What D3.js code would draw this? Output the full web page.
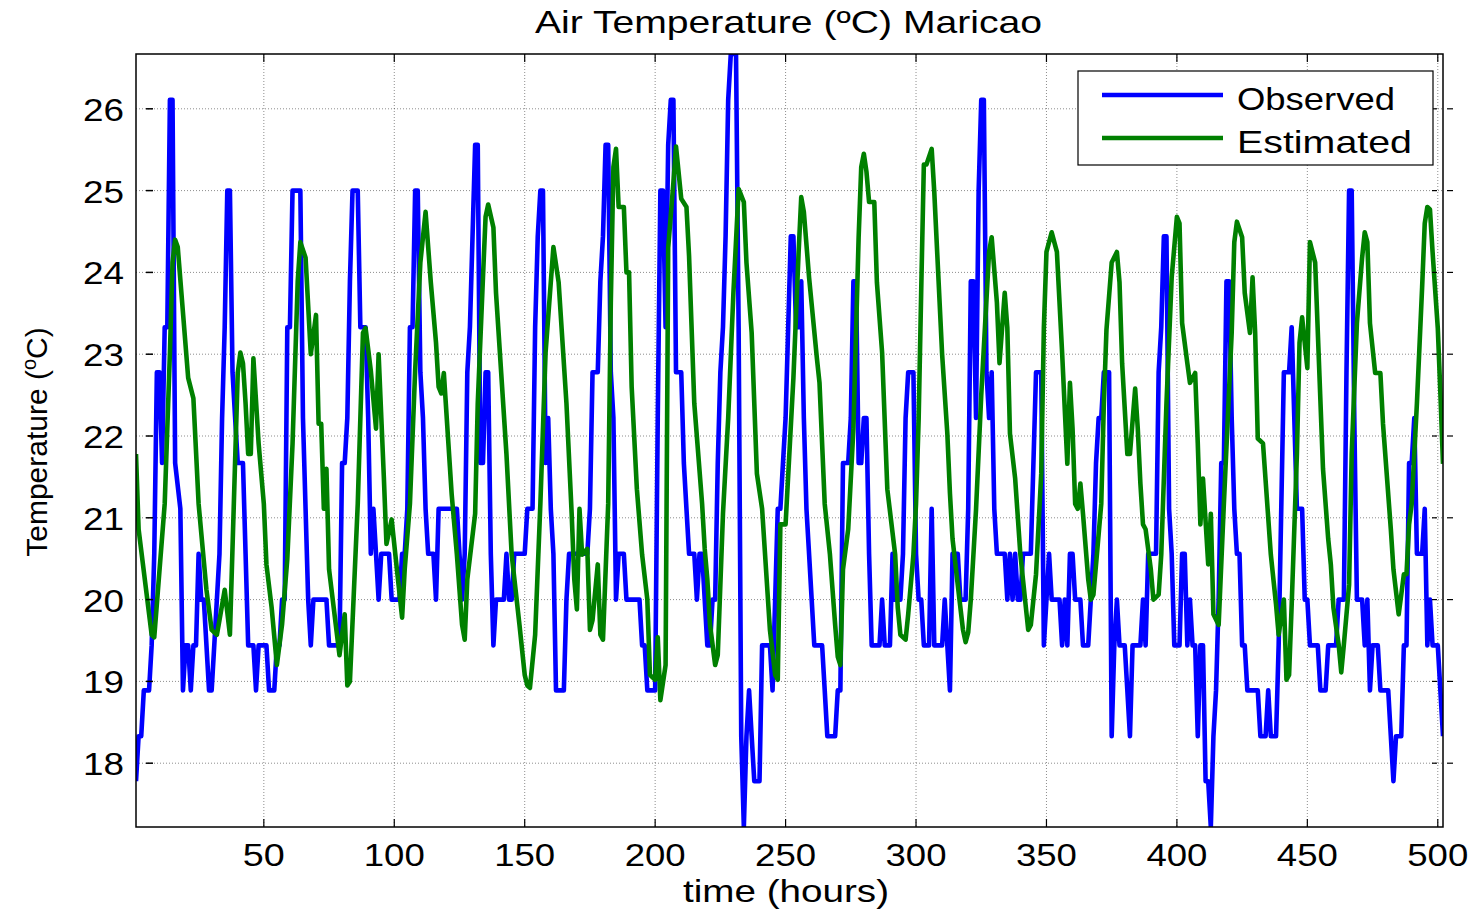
<!DOCTYPE html>
<html>
<head>
<meta charset="utf-8">
<script src="https://cdn.jsdelivr.net/npm/d3@7"></script>
<style>
  body { margin: 0; background: #fff; }
  text { font-family: "Liberation Sans", Arial, sans-serif; fill: #000; }
</style>
</head>
<body>
<svg id="chart" width="1473" height="910"></svg>
<script>
// Hourly air temperature at Maricao, [hour, °C]
const observed = [
  [1,17.78],[2,18.33],[3,18.33],[4,18.89],[6,18.89],[7,19.44],[8,20.56],[9,22.78],[10,22.78],[11,21.67],
  [12,23.33],[13,23.33],[14,26.11],[15,26.11],[16,21.67],[18,21.11],[19,18.89],[20,19.44],[21,19.44],[22,18.89],
  [23,19.44],[24,19.44],[25,20.56],[26,20.0],[27,20.0],[29,18.89],[30,18.89],[31,19.44],[32,20.0],[33,20.56],
  [34,22.22],[35,23.33],[36,25.0],[37,25.0],[38,22.78],[39,22.22],[40,21.67],[42,21.67],[43,20.56],[44,19.44],
  [46,19.44],[47,18.89],[48,19.44],[51,19.44],[52,18.89],[54,18.89],[55,19.44],[56,19.44],[57,20.0],[58,20.0],
  [59,23.33],[60,23.33],[61,25.0],[64,25.0],[65,22.22],[66,21.11],[67,20.0],[68,19.44],[69,20.0],[74,20.0],
  [75,19.44],[79,19.44],[80,21.67],[81,21.67],[82,22.22],[83,23.89],[84,25.0],[86,25.0],[87,23.33],[89,23.33],
  [90,22.22],[91,20.56],[92,21.11],[93,20.56],[94,20.0],[95,20.56],[98,20.56],[99,20.0],[102,20.0],[103,20.56],
  [104,20.56],[105,21.11],[106,23.33],[107,23.33],[108,25.0],[109,25.0],[110,22.78],[111,22.22],[112,21.11],[113,20.56],
  [115,20.56],[116,20.0],[117,21.11],[124,21.11],[125,20.56],[126,20.0],[127,20.56],[128,22.78],[129,23.33],[130,24.44],
  [131,25.56],[132,25.56],[133,21.67],[134,21.67],[135,22.78],[136,22.78],[137,20.56],[138,19.44],[139,20.0],[142,20.0],
  [143,20.56],[144,20.0],[145,20.0],[146,20.56],[150,20.56],[151,21.11],[153,21.11],[154,23.33],[155,24.44],[156,25.0],
  [157,25.0],[158,21.67],[159,22.22],[160,21.11],[161,20.56],[162,18.89],[165,18.89],[166,20.0],[167,20.56],[174,20.56],
  [175,21.11],[176,22.78],[178,22.78],[179,23.89],[180,24.44],[181,25.56],[182,25.56],[183,22.78],[184,22.22],[185,20.0],
  [186,20.56],[188,20.56],[189,20.0],[194,20.0],[195,19.44],[196,19.44],[197,18.89],[200,18.89],[201,22.22],[202,25.0],
  [203,25.0],[204,23.33],[205,25.56],[206,26.11],[207,26.11],[208,22.78],[210,22.78],[211,21.67],[212,21.11],[213,20.56],
  [215,20.56],[216,20.0],[217,20.56],[218,20.56],[219,20.0],[220,19.44],[221,19.44],[222,20.0],[223,20.0],[224,21.67],
  [225,22.78],[226,23.33],[227,24.44],[228,26.11],[229,26.67],[231,26.67],[232,23.33],[233,18.33],[234,17.22],[235,18.33],
  [236,18.89],[237,18.33],[238,17.78],[240,17.78],[241,19.44],[244,19.44],[245,18.89],[246,20.0],[247,21.11],[248,21.11],
  [249,21.67],[250,22.22],[251,23.33],[252,24.44],[253,24.44],[254,23.33],[255,23.33],[256,23.89],[257,22.22],[258,21.11],
  [259,20.56],[260,20.0],[261,19.44],[264,19.44],[265,18.89],[266,18.33],[269,18.33],[270,18.89],[271,18.89],[272,21.67],
  [274,21.67],[275,22.22],[276,23.89],[277,23.89],[278,21.67],[279,21.67],[280,22.22],[281,22.22],[282,20.56],[283,19.44],
  [286,19.44],[287,20.0],[288,19.44],[290,19.44],[291,20.56],[292,20.0],[294,20.0],[295,20.56],[296,22.22],[297,22.78],
  [299,22.78],[300,20.56],[301,20.0],[302,20.0],[303,19.44],[305,19.44],[306,21.11],[307,19.44],[310,19.44],[311,20.0],
  [312,19.44],[313,18.89],[314,20.56],[316,20.56],[317,20.0],[319,20.0],[320,21.11],[321,23.89],[322,23.89],[323,22.22],
  [324,25.0],[325,26.11],[326,26.11],[327,22.78],[328,22.22],[329,22.78],[330,21.11],[331,20.56],[334,20.56],[335,20.0],
  [336,20.56],[337,20.0],[338,20.56],[339,20.0],[340,20.0],[341,20.56],[344,20.56],[345,21.67],[346,22.78],[348,22.78],
  [349,19.44],[350,20.0],[351,20.56],[352,20.0],[355,20.0],[356,19.44],[357,20.0],[358,19.44],[359,20.56],[360,20.56],
  [361,20.0],[363,20.0],[364,19.44],[366,19.44],[367,20.0],[368,20.56],[369,21.67],[370,22.22],[371,22.22],[372,22.78],
  [374,22.78],[375,18.33],[376,19.44],[377,20.0],[378,19.44],[380,19.44],[381,18.89],[382,18.33],[383,19.44],[386,19.44],
  [387,20.0],[388,19.44],[389,20.56],[392,20.56],[393,22.78],[394,23.33],[395,24.44],[396,24.44],[397,21.11],[398,20.56],
  [399,19.44],[401,19.44],[402,20.56],[403,20.56],[404,19.44],[405,20.0],[406,19.44],[407,19.44],[408,18.33],[409,19.44],
  [410,19.44],[411,17.78],[412,17.78],[413,17.22],[414,18.33],[415,18.89],[416,20.0],[417,21.67],[418,21.67],[419,23.89],
  [420,23.89],[421,22.22],[422,21.11],[423,20.56],[424,20.56],[425,19.44],[426,19.44],[427,18.89],[431,18.89],[432,18.33],
  [434,18.33],[435,18.89],[436,18.33],[438,18.33],[439,19.44],[440,21.11],[441,22.78],[443,22.78],[444,23.33],[445,22.22],
  [446,21.11],[448,21.11],[449,20.0],[450,20.0],[451,19.44],[454,19.44],[455,18.89],[457,18.89],[458,19.44],[461,19.44],
  [462,20.0],[464,20.0],[465,22.78],[466,25.0],[467,25.0],[468,22.22],[469,20.0],[471,20.0],[472,19.44],[473,20.0],
  [474,18.89],[475,19.44],[477,19.44],[478,18.89],[481,18.89],[482,18.33],[483,17.78],[484,18.33],[486,18.33],[487,19.44],
  [488,19.44],[489,21.67],[490,21.67],[491,22.22],[492,20.56],[494,20.56],[495,21.11],[496,19.44],[497,20.0],[498,19.44],
  [500,19.44],[502,18.33]
];
const estimated = [
  [1,21.78],[2,20.86],[7,19.57],[8,19.54],[12,21.17],[14,23.02],[15,24.12],[16,24.40],[17,24.31],[21,22.71],
  [23,22.46],[25,21.17],[28,20.12],[30,19.63],[32,19.57],[33,19.75],[35,20.12],[37,19.57],[40,22.77],[41,23.02],
  [42,22.89],[43,22.4],[44,21.78],[45,21.78],[46,22.95],[48,21.91],[50,21.17],[51,20.43],[53,19.9],[55,19.2],
  [57,19.7],[59,20.5],[61,21.9],[63,23.9],[64,24.37],[66,24.18],[68,23.0],[70,23.48],[71,22.15],[72,22.15],
  [73,21.11],[74,21.6],[75,20.37],[79,19.32],[81,19.82],[82,18.95],[83,19.0],[86,21.17],[88,23.26],[89,23.32],
  [91,22.8],[93,22.09],[94,23.0],[96,21.5],[97,20.68],[99,20.98],[101,20.37],[103,19.78],[104,20.37],[106,21.17],
  [108,22.8],[110,24.12],[112,24.74],[114,23.88],[116,23.14],[117,22.6],[118,22.52],[119,22.77],[122,21.29],[124,20.55],
  [126,19.69],[127,19.51],[128,20.25],[131,21.05],[132,22.4],[134,23.94],[135,24.68],[136,24.83],[138,24.55],[139,23.75],
  [143,21.78],[145,20.55],[148,19.69],[150,19.08],[151,18.95],[152,18.92],[154,19.57],[156,21.17],[158,23.02],[161,24.31],
  [163,23.88],[166,22.4],[168,21.05],[169,20.25],[170,19.88],[171,21.11],[172,20.55],[174,20.62],[175,19.63],[176,19.75],
  [178,20.43],[179,19.57],[180,19.51],[182,21.17],[183,23.63],[184,25.29],[185,25.51],[186,24.8],[188,24.8],[189,24.0],
  [190,24.0],[191,22.6],[193,21.35],[195,20.55],[197,20.0],[198,19.08],[200,19.02],[201,19.54],[202,18.77],[204,19.2],
  [205,24.3],[207,25.1],[208,25.54],[210,24.9],[212,24.8],[213,24.2],[215,22.4],[218,21.17],[219,20.62],[220,20.25],
  [221,19.7],[223,19.2],[224,19.32],[226,21.05],[228,22.22],[230,23.75],[232,25.02],[234,24.86],[235,24.12],[237,23.26],
  [239,21.54],[241,21.11],[244,19.63],[246,19.08],[247,19.02],[248,20.92],[250,20.92],[253,22.71],[255,24.25],[256,24.92],
  [257,24.74],[259,23.94],[262,22.95],[263,22.65],[265,21.17],[267,20.55],[269,19.69],[270,19.3],[271,19.2],[272,20.37],
  [274,20.86],[276,22.09],[278,24.43],[279,25.29],[280,25.45],[281,25.23],[282,24.86],[284,24.86],[285,23.88],[287,23.02],
  [289,21.35],[292,20.55],[293,19.9],[294,19.57],[296,19.51],[297,19.82],[299,20.55],[300,21.17],[301,22.2],[302,23.8],
  [303,25.32],[304,25.32],[306,25.51],[307,24.98],[310,23.0],[312,22.03],[313,21.3],[314,20.74],[316,20.18],[318,19.63],
  [319,19.48],[320,19.6],[321,20.0],[323,21.1],[325,22.5],[328,24.25],[329,24.43],[331,23.63],[332,22.89],[334,23.75],
  [335,23.32],[336,22.03],[338,21.48],[340,20.55],[343,19.63],[344,19.69],[346,20.31],[348,21.54],[349,23.32],[350,24.25],
  [352,24.49],[354,24.25],[356,23.02],[358,21.66],[359,22.65],[360,22.09],[361,21.17],[362,21.11],[363,21.42],[364,21.05],
  [366,20.25],[367,20.0],[368,20.06],[371,21.17],[372,22.4],[373,23.3],[375,24.12],[377,24.25],[378,23.88],[379,22.89],
  [381,21.78],[382,21.78],[384,22.58],[385,22.09],[386,21.42],[387,20.92],[388,20.86],[390,20.37],[391,20.0],[393,20.06],
  [394,20.55],[396,22.4],[398,23.94],[400,24.68],[401,24.6],[402,23.38],[404,22.89],[405,22.65],[407,22.77],[408,21.91],
  [409,20.92],[410,21.48],[412,20.43],[413,21.05],[414,19.82],[416,19.69],[418,21.17],[421,23.26],[422,24.37],[423,24.62],
  [425,24.43],[426,23.75],[428,23.26],[429,23.94],[430,23.26],[431,21.97],[433,21.91],[436,20.55],[438,19.94],[439,19.57],
  [441,20.0],[442,19.02],[443,19.08],[444,19.94],[446,21.78],[447,23.14],[448,23.45],[450,22.83],[451,24.37],[453,24.12],
  [456,21.6],[458,20.74],[459,20.43],[460,19.9],[462,19.45],[463,19.11],[464,19.45],[466,20.18],[467,21.78],[469,23.38],
  [471,24.18],[472,24.49],[473,24.37],[474,23.38],[476,22.77],[478,22.77],[479,22.15],[482,20.86],[483,20.37],[485,19.82],
  [486,20.06],[487,20.31],[488,20.31],[489,20.92],[490,21.17],[492,22.4],[494,23.82],[495,24.6],[496,24.8],[497,24.77],
  [498,24.25],[500,23.32],[501,22.52],[502,21.66]
];

const xTickValues = [50, 100, 150, 200, 250, 300, 350, 400, 450, 500];
const yTickValues = [18, 19, 20, 21, 22, 23, 24, 25, 26];
const seriesNames = ["Observed", "Estimated"];
const seriesColors = ["#0000ff", "#008000"];

const plot = { left: 136, right: 1443, top: 54, bottom: 827 };
const svg = d3.select("#chart");
svg.append("rect").attr("width", 1473).attr("height", 910).attr("fill", "#fff");

const x = d3.scaleLinear().domain([1, 502]).range([plot.left, plot.right]);
const y = d3.scaleLinear().domain([17.22, 26.67]).range([plot.bottom, plot.top]);

svg.append("defs").append("clipPath").attr("id", "plotClip")
  .append("rect")
  .attr("x", plot.left).attr("y", plot.top)
  .attr("width", plot.right - plot.left).attr("height", plot.bottom - plot.top);

// dotted grid
const grid = svg.append("g").attr("stroke", "#000").attr("stroke-opacity", 0.5)
  .attr("stroke-width", 0.9).attr("stroke-dasharray", "1,2");
xTickValues.forEach(v => grid.append("line")
  .attr("x1", x(v)).attr("x2", x(v)).attr("y1", plot.top).attr("y2", plot.bottom));
yTickValues.forEach(v => grid.append("line")
  .attr("x1", plot.left).attr("x2", plot.right).attr("y1", y(v)).attr("y2", y(v)));

// series lines
const lineGen = d3.line().x(d => x(d[0])).y(d => y(d[1]));
const lines = svg.append("g").attr("clip-path", "url(#plotClip)");
[observed, estimated].forEach((pts, i) => {
  lines.append("path").datum(pts)
    .attr("d", lineGen)
    .attr("fill", "none")
    .attr("stroke", seriesColors[i])
    .attr("stroke-width", 4.6)
    .attr("stroke-linejoin", "round");
});

// axes box and ticks
const frame = svg.append("g").attr("stroke", "#000").attr("fill", "none");
frame.append("rect")
  .attr("x", plot.left).attr("y", plot.top)
  .attr("width", plot.right - plot.left).attr("height", plot.bottom - plot.top)
  .attr("stroke-width", 1.5);
xTickValues.forEach(v => {
  frame.append("line").attr("x1", x(v)).attr("x2", x(v))
    .attr("y1", plot.bottom).attr("y2", plot.bottom - 8).attr("stroke-width", 1.2);
  frame.append("line").attr("x1", x(v)).attr("x2", x(v))
    .attr("y1", plot.top).attr("y2", plot.top + 8).attr("stroke-width", 1.2);
});
yTickValues.forEach(v => {
  frame.append("line").attr("x1", plot.left + 10).attr("x2", plot.left + 17)
    .attr("y1", y(v)).attr("y2", y(v)).attr("stroke-width", 1.5);
  frame.append("line").attr("x1", plot.right - 11).attr("x2", plot.right - 6)
    .attr("y1", y(v)).attr("y2", y(v)).attr("stroke-width", 1.2);
  frame.append("line").attr("x1", plot.right + 4).attr("x2", plot.right + 10)
    .attr("y1", y(v)).attr("y2", y(v)).attr("stroke-width", 1.2);
});

// tick labels
const tickFont = 32;
svg.append("g").selectAll("text").data(yTickValues).join("text")
  .attr("x", 124).attr("y", d => y(d) + 12)
  .attr("text-anchor", "end").attr("font-size", tickFont)
  .attr("textLength", 41).attr("lengthAdjust", "spacingAndGlyphs")
  .text(d => d);
svg.append("g").selectAll("text").data(xTickValues).join("text")
  .attr("x", d => x(d)).attr("y", 866)
  .attr("text-anchor", "middle").attr("font-size", tickFont)
  .attr("textLength", d => String(d).length === 2 ? 42 : 61)
  .attr("lengthAdjust", "spacingAndGlyphs")
  .text(d => d);

// title and axis labels
svg.append("text").attr("x", 535).attr("y", 33).attr("font-size", 32)
  .attr("textLength", 507).attr("lengthAdjust", "spacingAndGlyphs")
  .text("Air Temperature (ºC) Maricao");
svg.append("text").attr("x", 786).attr("y", 902).attr("text-anchor", "middle")
  .attr("font-size", 32).attr("textLength", 206).attr("lengthAdjust", "spacingAndGlyphs")
  .text("time (hours)");
const yl = svg.append("text").attr("transform", "translate(47,442) rotate(-90)")
  .attr("text-anchor", "middle").attr("font-size", 30);
yl.append("tspan").text("Temperature (");
yl.append("tspan").attr("font-size", 20).attr("dy", -11).text("o");
yl.append("tspan").attr("dy", 11).text("C)");

// legend
const lg = svg.append("g");
lg.append("rect").attr("x", 1078).attr("y", 71).attr("width", 355).attr("height", 94)
  .attr("fill", "#fff").attr("stroke", "#000").attr("stroke-width", 1.2);
seriesNames.forEach((name, i) => {
  const ly = 95 + i * 43;
  lg.append("line").attr("x1", 1102).attr("x2", 1223).attr("y1", ly).attr("y2", ly)
    .attr("stroke", seriesColors[i]).attr("stroke-width", 4.6);
  lg.append("text").attr("x", 1237).attr("y", ly + 15).attr("font-size", 32)
    .attr("textLength", i === 0 ? 158 : 175).attr("lengthAdjust", "spacingAndGlyphs")
    .text(name);
});
</script>
</body>
</html>
